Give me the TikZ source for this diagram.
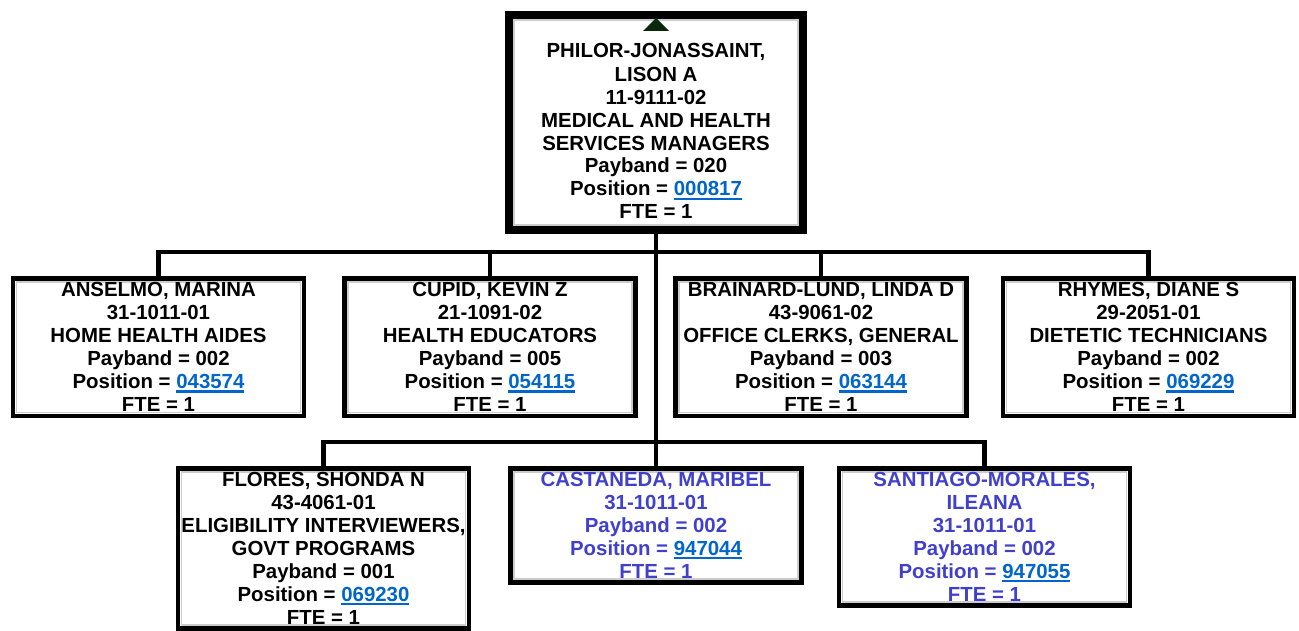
\documentclass[tikz,border=0pt]{standalone}
\usepackage{fontspec}
\setmainfont{Liberation Sans}
\usepackage{xcolor}
\usetikzlibrary{positioning}
\definecolor{linkblue}{RGB}{0,102,204}
\definecolor{vacant}{RGB}{64,64,204}
\definecolor{flaggreen}{RGB}{10,40,10}
\newcommand{\posno}[1]{{\color{linkblue}\setbox0\hbox{#1}\rlap{\rule[-4pt]{\wd0}{2.5pt}}\box0}}
\tikzset{rim/.style={path picture={\draw[gray!40,line width=1.5pt]
      ([shift={(#1,-#1)}]path picture bounding box.north west) rectangle
      ([shift={(-#1,#1)}]path picture bounding box.south east);}},
  card/.style={draw,fill=white,align=center,anchor=north,inner xsep=0pt},
  emp/.style={card,line width=4.5pt,inner ysep=4pt,minimum width=291pt,rim=3.5pt},
  head/.style={card,line width=8pt,inner ysep=11pt,minimum width=294pt,rim=5pt}}
\tikzstyle{wire} = [line width=4.5pt]

\begin{document}
\begin{tikzpicture}[x=1pt,y=-1pt,font=\bfseries\fontsize{20.4}{23}\selectfont]
\useasboundingbox (0,0) rectangle (1299,631);

\node[head] (boss) at (656,11) {\rule{0pt}{9pt}\\PHILOR-JONASSAINT,\\LISON A\\11-9111-02\\MEDICAL AND HEALTH\\SERVICES MANAGERS\\Payband = 020\\Position = \posno{000817}\\FTE = 1};
\fill[flaggreen] ([yshift=-7pt]boss.north) -- ++(13,13) -- ++(-26,0) -- cycle;

% first row
\node[emp] (anselmo) at (158.5,276.5) {ANSELMO, MARINA\\31-1011-01\\HOME HEALTH AIDES\\Payband = 002\\Position = \posno{043574}\\FTE = 1};
\node[emp] (cupid) at (490,276.5) {CUPID, KEVIN Z\\21-1091-02\\HEALTH EDUCATORS\\Payband = 005\\Position = \posno{054115}\\FTE = 1};
\node[emp] (brainard) at (821,276.5) {BRAINARD-LUND, LINDA D\\43-9061-02\\OFFICE CLERKS, GENERAL\\Payband = 003\\Position = \posno{063144}\\FTE = 1};
\node[emp] (rhymes) at (1148.5,276.5) {RHYMES, DIANE S\\29-2051-01\\DIETETIC TECHNICIANS\\Payband = 002\\Position = \posno{069229}\\FTE = 1};

% second row
\node[emp] (flores) at (323.5,466) {FLORES, SHONDA N\\43-4061-01\\ELIGIBILITY INTERVIEWERS,\\GOVT PROGRAMS\\Payband = 001\\Position = \posno{069230}\\FTE = 1};
\node[emp,text=vacant] (castaneda) at (656,466) {CASTANEDA, MARIBEL\\31-1011-01\\Payband = 002\\Position = \posno{947044}\\FTE = 1};
\node[emp,text=vacant] (santiago) at (984.5,466) {SANTIAGO-MORALES,\\ILEANA\\31-1011-01\\Payband = 002\\Position = \posno{947055}\\FTE = 1};

\coordinate (bus1) at (656,252);
\coordinate (bus2) at (656,442);
\draw[wire] (boss.south) -- (bus2);
\draw[wire] (anselmo.north) |- (bus1) -| (rhymes.north);
\draw[wire] (cupid.north) -- (cupid.north |- bus1);
\draw[wire] (brainard.north) -- (brainard.north |- bus1);
\draw[wire] (flores.north) |- (bus2) -| (santiago.north);
\draw[wire] (castaneda.north) -- (bus2);
\end{tikzpicture}
\end{document}
